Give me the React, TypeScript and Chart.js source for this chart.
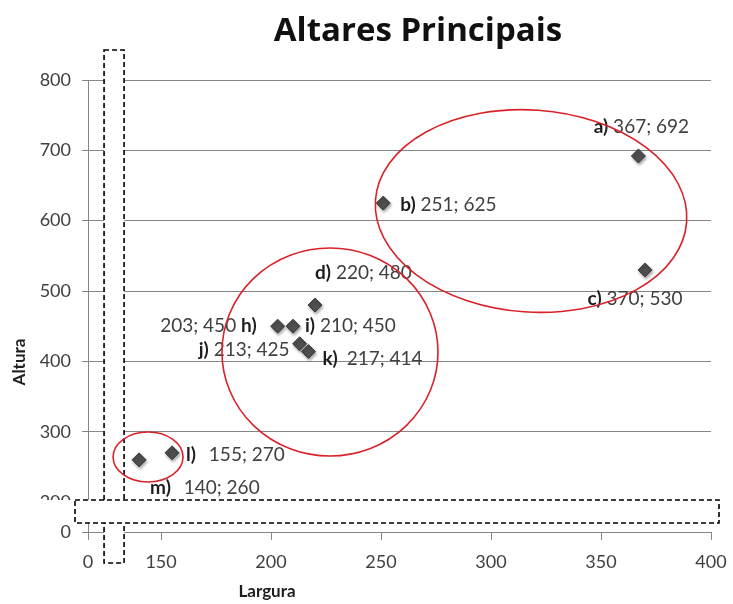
import React, { useEffect, useRef } from 'react';
import { Chart, registerables } from 'chart.js';

Chart.register(...registerables);

// ---------------- data ----------------
const pointLetters = ['a', 'b', 'c', 'd', 'h', 'i', 'j', 'k', 'l', 'm'];
const larguraValues = [367, 251, 370, 220, 203, 210, 213, 217, 155, 140];
const alturaValues = [692, 625, 530, 480, 450, 450, 425, 414, 270, 260];

const xTickValues = [0, 150, 200, 250, 300, 350, 400];
const yTickValues = [0, 200, 300, 400, 500, 600, 700, 800];

const chartTitle = 'Altares Principais';
const xTitle = 'Largura';
const yTitle = 'Altura';

// broken axes: position on the continuous scale where the "0" tick is shown
const xZeroAt = 116.8;
const yZeroAt = 157.4;
const xMax = 400;
const yMax = 800;

// axis-break bands (axis units)
const xBreakBand = [124.1, 133.2];
const yBreakBand = [170.2, 202.9];

// grouping ellipses (axis units)
const groupCentersX = [318.2, 226.8, 144.1];
const groupCentersY = [613.8, 413.3, 264.0];
const groupRadiiX = [70.9, 49.1, 15.9];
const groupRadiiY = [143.6, 147.9, 35.5];
const groupRotations = [4, 0, 0];

// ---------------- styles ----------------
const FONT = 'Lato, "Open Sans", sans-serif';
const GRID = '#868686';
const TICK_COLOR = '#404040';
const LABEL_SIZE = 19;

type Place = { dx: number; dy: number; align: 'left' | 'right' | 'center'; letterAfter?: boolean; gap?: number };
const labelPlacement: Place[] = [
  { dx: 3, dy: -29, align: 'center' },
  { dx: 17, dy: 2, align: 'left' },
  { dx: -10, dy: 29, align: 'center' },
  { dx: 0, dy: -32, align: 'left' },
  { dx: -21, dy: 0, align: 'right', letterAfter: true },
  { dx: 12, dy: 0, align: 'left' },
  { dx: -10, dy: 6, align: 'right' },
  { dx: 14, dy: 7, align: 'left', gap: 4 },
  { dx: 14, dy: 2, align: 'left', gap: 8 },
  { dx: 11, dy: 28, align: 'left', gap: 8 },
];

const decorPlugin = {
  id: 'decor',
  beforeDatasetsDraw(chart: any) {
    const { ctx, chartArea, scales } = chart;
    const xs = scales.x;
    const ys = scales.y;
    ctx.save();
    ctx.strokeStyle = '#000';
    ctx.lineWidth = 1.6;
    ctx.setLineDash([5, 3]);
    // vertical break (x axis)
    const bx0 = xs.getPixelForValue(xBreakBand[0]);
    const bx1 = xs.getPixelForValue(xBreakBand[1]);
    const vTop = chartArea.top - 30;
    const vBottom = chartArea.bottom + 31;
    ctx.fillStyle = '#fff';
    ctx.fillRect(bx0, vTop, bx1 - bx0, vBottom - vTop);
    ctx.beginPath();
    ctx.rect(bx0, vTop, bx1 - bx0, vBottom - vTop);
    ctx.stroke();
    // horizontal break (y axis)
    const by0 = ys.getPixelForValue(yBreakBand[1]);
    const by1 = ys.getPixelForValue(yBreakBand[0]);
    const hLeft = chartArea.left - 13;
    const hRight = chartArea.right + 8;
    ctx.fillStyle = '#fff';
    ctx.fillRect(30, by0, hRight - 30, by1 - by0);
    ctx.beginPath();
    ctx.rect(hLeft, by0, hRight - hLeft, by1 - by0);
    ctx.stroke();
    ctx.restore();
  },
  beforeDatasetDraw(chart: any) {
    const { ctx } = chart;
    ctx.save();
    ctx.shadowColor = 'rgba(0,0,0,0.35)';
    ctx.shadowBlur = 3;
    ctx.shadowOffsetX = 1;
    ctx.shadowOffsetY = 2;
  },
  afterDatasetDraw(chart: any) {
    chart.ctx.restore();
  },
  afterDatasetsDraw(chart: any) {
    const { ctx, scales } = chart;
    const xs = scales.x;
    const ys = scales.y;
    const meta = chart.getDatasetMeta(0);
    ctx.save();
    ctx.textBaseline = 'middle';
    meta.data.forEach((el: any, i: number) => {
      const p = labelPlacement[i];
      const gap = p.gap || 0;
      const letter = `${pointLetters[i]})`;
      const nums = `${larguraValues[i]}; ${alturaValues[i]}`;
      const parts = p.letterAfter
        ? [{ t: nums + ' ', b: false }, { t: letter, b: true }]
        : [{ t: letter, b: true }, { t: ' ' + nums, b: false }];
      let total = gap;
      const widths = parts.map((pt) => {
        ctx.font = `${pt.b ? 'bold ' : ''}${LABEL_SIZE}px ${FONT}`;
        const w = ctx.measureText(pt.t).width;
        total += w;
        return w;
      });
      const ax = el.x + p.dx;
      let x = p.align === 'left' ? ax : p.align === 'right' ? ax - total : ax - total / 2;
      const y = el.y + p.dy;
      ctx.textAlign = 'left';
      parts.forEach((pt, k) => {
        ctx.font = `${pt.b ? 'bold ' : ''}${LABEL_SIZE}px ${FONT}`;
        ctx.fillStyle = pt.b ? '#1e1e1e' : '#404040';
        ctx.fillText(pt.t, x, y);
        x += widths[k] + (k === 0 ? gap : 0);
      });
    });
    // ellipses
    ctx.strokeStyle = '#d8222a';
    ctx.lineWidth = 1.6;
    groupCentersX.forEach((cxv, i) => {
      const cx = xs.getPixelForValue(cxv);
      const cy = ys.getPixelForValue(groupCentersY[i]);
      const rx = Math.abs(xs.getPixelForValue(cxv + groupRadiiX[i]) - cx);
      const ry = Math.abs(ys.getPixelForValue(groupCentersY[i] + groupRadiiY[i]) - cy);
      ctx.beginPath();
      ctx.ellipse(cx, cy, rx, ry, (groupRotations[i] * Math.PI) / 180, 0, Math.PI * 2);
      ctx.stroke();
    });
    ctx.restore();
  },
  afterDraw(chart: any) {
    const { ctx } = chart;
    ctx.save();
    ctx.fillStyle = '#111';
    ctx.textAlign = 'center';
    ctx.textBaseline = 'middle';
    ctx.font = `bold 33px "Open Sans", Lato, sans-serif`;
    ctx.fillText(chartTitle, 418, 32);
    ctx.font = `bold 17px ${FONT}`;
    ctx.fillStyle = '#1e1e1e';
    ctx.fillText(xTitle, 267, 592);
    ctx.translate(20, 362);
    ctx.rotate(-Math.PI / 2);
    ctx.fillText(yTitle, 0, 0);
    ctx.restore();
  },
};

export default function App() {
  const ref = useRef<HTMLCanvasElement>(null);
  useEffect(() => {
    if (!ref.current) return;
    const chart = new Chart(ref.current, {
      type: 'scatter',
      data: {
        datasets: [
          {
            label: 'Altares',
            data: larguraValues.map((x, i) => ({ x, y: alturaValues[i] })),
            pointStyle: 'rectRot',
            pointRadius: 7,
            pointHoverRadius: 7,
            backgroundColor: '#4f4f4f',
            borderColor: '#3a3a3a',
            borderWidth: 1,
          },
        ],
      },
      options: {
        animation: false,
        responsive: false,
        devicePixelRatio: 1,
        layout: { padding: { top: 80, right: 22, left: 0, bottom: 0 } },
        plugins: { legend: { display: false }, tooltip: { enabled: false }, title: { display: false } },
        scales: {
          x: {
            type: 'linear',
            min: xZeroAt,
            max: xMax,
            afterBuildTicks: (s: any) => {
              s.ticks = xTickValues.map((v) => ({ value: v === 0 ? xZeroAt : v }));
            },
            afterFit: (s: any) => {
              s.height = 72;
              s.paddingLeft = 0;
              s.paddingRight = 0;
            },
            ticks: {
              autoSkip: false,
              maxRotation: 0,
              padding: 11,
              color: TICK_COLOR,
              font: { family: FONT, size: 18 },
              callback: (_v: any, i: number) => String(xTickValues[i]),
            },
            grid: { drawOnChartArea: false, drawTicks: true, tickLength: 8, color: GRID },
            border: { display: true, color: GRID },
          },
          y: {
            type: 'linear',
            min: yZeroAt,
            max: yMax,
            afterBuildTicks: (s: any) => {
              s.ticks = yTickValues.map((v) => ({ value: v === 0 ? yZeroAt : v }));
            },
            afterFit: (s: any) => {
              s.width = 88;
            },
            ticks: {
              autoSkip: false,
              padding: 11,
              color: TICK_COLOR,
              font: { family: FONT, size: 18 },
              callback: (_v: any, i: number) => String(yTickValues[i]),
            },
            grid: { drawTicks: true, tickLength: 6, color: GRID },
            border: { display: true, color: GRID },
          },
        },
      },
      plugins: [decorPlugin],
    });
    return () => chart.destroy();
  }, []);
  return (
    <div style={{ position: 'fixed', left: 0, top: 0, width: 733, height: 604, background: '#fff' }}>
      <canvas ref={ref} width={733} height={604} />
    </div>
  );
}
